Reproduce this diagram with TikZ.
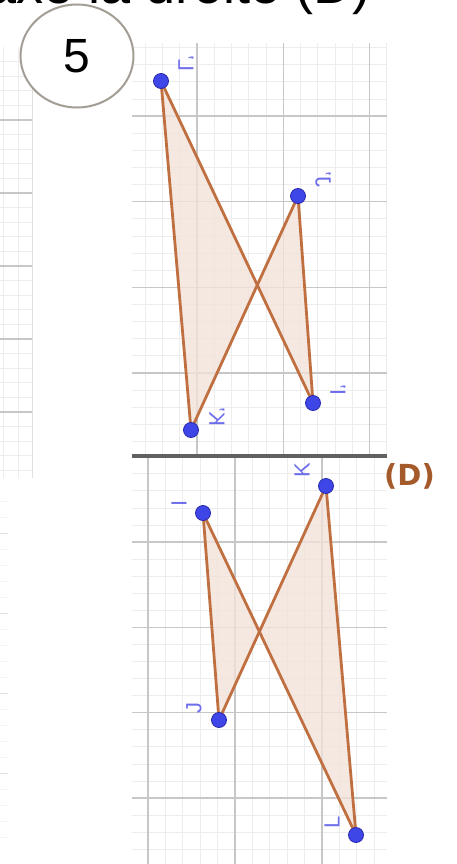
\documentclass[tikz,border=0pt]{standalone}
\usepackage{fontspec}
\setmainfont{Liberation Sans}
\newfontfamily\djb{DejaVu Sans}
\usetikzlibrary{shapes.geometric}
\definecolor{segc}{RGB}{192,112,64}
\definecolor{figf}{RGB}{242,226,218}
\definecolor{ptc}{RGB}{62,70,232}
\definecolor{ptd}{RGB}{40,40,170}
\definecolor{labc}{RGB}{110,110,235}
\definecolor{dcol}{RGB}{164,90,42}
\definecolor{circc}{RGB}{163,158,148}
\begin{document}
\begin{tikzpicture}[x=1pt,y=-1pt,
  minor/.style={draw=black!7, line width=0.7pt},
  major/.style={draw=black!22, line width=1.3pt},
  seg/.style={draw=segc, line width=2.8pt, line cap=round},
  figfill/.style={fill=figf, fill opacity=0.8},
  ptnode/.style={circle, fill=ptc, draw=ptd, line width=0.8pt, minimum size=15pt, inner sep=0pt},
  lab/.style={text=labc, font=\fontsize{22}{22}\selectfont, inner sep=0pt},
]
\useasboundingbox (0,0) rectangle (457,864);
\clip (0,0) rectangle (457,864);

% ---------- left strips ----------
\foreach \k in {-4,...,24} \draw[minor] (0,120+14.6*\k) -- (32,120+14.6*\k);
\foreach \x in {3.5,18} \draw[minor] (\x,47) -- (\x,478);
\foreach \k in {0,...,4} \draw[major] (0,120+73*\k) -- (32,120+73*\k);
\draw[draw=black!12, line width=1pt] (32,47) -- (32,478);
\foreach \k in {-2,...,19} \draw[draw=black!4, line width=0.6pt] (0,533+16*\k) -- (8,533+16*\k);
\foreach \k in {0,...,3} \draw[draw=black!12, line width=1pt] (0,533+80*\k) -- (8,533+80*\k);

% ---------- upper grid ----------
\foreach \k in {-3,...,11} \draw[minor] (197+17.25*\k,43) -- (197+17.25*\k,455);
\foreach \k in {-4,...,19} \draw[minor] (132,116+17.13*\k) -- (387,116+17.13*\k);
\foreach \k in {0,1,2} \draw[major] (197+86.25*\k,43) -- (197+86.25*\k,455);
\foreach \k in {0,...,3} \draw[major] (132,116+85.67*\k) -- (387,116+85.67*\k);

% ---------- lower grid ----------
\foreach \k in {0,...,13} \draw[minor] (148+17.4*\k,456) -- (148+17.4*\k,864);
\foreach \k in {-5,...,18} \draw[minor] (132,542+17.07*\k) -- (387,542+17.07*\k);
\foreach \k in {0,1,2} \draw[major] (148+87*\k,456) -- (148+87*\k,864);
\foreach \k in {0,...,3} \draw[major] (132,542+85.3*\k) -- (387,542+85.3*\k);

% ---------- line (D) ----------
\coordinate (D1) at (132,456);
\coordinate (D2) at (387,456);
\draw[line width=3.6pt, draw=black!62] (D1) -- (D2);
\node[font=\djb\bfseries\fontsize{29}{29}\selectfont, text=dcol, anchor=west, inner sep=0pt] (Dlab) at (384,476) {(D)};

% ---------- upper figure ----------
\coordinate (Lp) at (161,81);
\coordinate (Kp) at (191,430);
\coordinate (Jp) at (298,196);
\coordinate (Ip) at (313,403);
\fill[figfill] (Lp) -- (Kp) -- (Jp) -- (Ip) -- cycle;
\draw[seg] (Lp) -- (Kp);
\draw[seg] (Lp) -- (Ip);
\draw[seg] (Jp) -- (Kp);
\draw[seg] (Jp) -- (Ip);
\node[ptnode] (dLp) at (Lp) {};
\node[ptnode] (dKp) at (Kp) {};
\node[ptnode] (dJp) at (Jp) {};
\node[ptnode] (dIp) at (Ip) {};
\node[lab, cm={0,1,1,0,(0,0)}] (tLp) at (186,64) {L'};
\node[lab, cm={0,1,1,0,(0,0)}] (tJp) at (323,180) {J'};
\node[lab, cm={0,1,1,0,(0,0)}] (tKp) at (217,417) {K'};
\node[lab, cm={0,1,1,0,(0,0)}] (tIp) at (338,390) {I'};

% ---------- lower figure ----------
\coordinate (I) at (203,513);
\coordinate (J) at (219,720);
\coordinate (K) at (326,486);
\coordinate (L) at (356,835);
\fill[figfill] (I) -- (J) -- (K) -- (L) -- cycle;
\draw[seg] (I) -- (J);
\draw[seg] (I) -- (L);
\draw[seg] (K) -- (J);
\draw[seg] (K) -- (L);
\node[ptnode] (dI) at (I) {};
\node[ptnode] (dJ) at (J) {};
\node[ptnode] (dK) at (K) {};
\node[ptnode] (dL) at (L) {};
\node[lab, rotate=90] (tK) at (302,470) {K};
\node[lab, rotate=90] (tI) at (179,503) {I};
\node[lab, rotate=90] (tJ) at (194,708) {J};
\node[lab, rotate=90] (tL) at (332,822) {L};

% ---------- number circle ----------
\node[ellipse, draw=circc, line width=2pt, fill=white, minimum width=113pt, minimum height=103pt, inner sep=0pt, font=\fontsize{48}{48}\selectfont] (num) at (77,56) {5};

% ---------- cut-off title ----------
\node[anchor=base east, inner sep=0pt, font=\fontsize{54}{54}\selectfont] (title) at (371,4) {d’axe la droite (D)};
\end{tikzpicture}
\end{document}
